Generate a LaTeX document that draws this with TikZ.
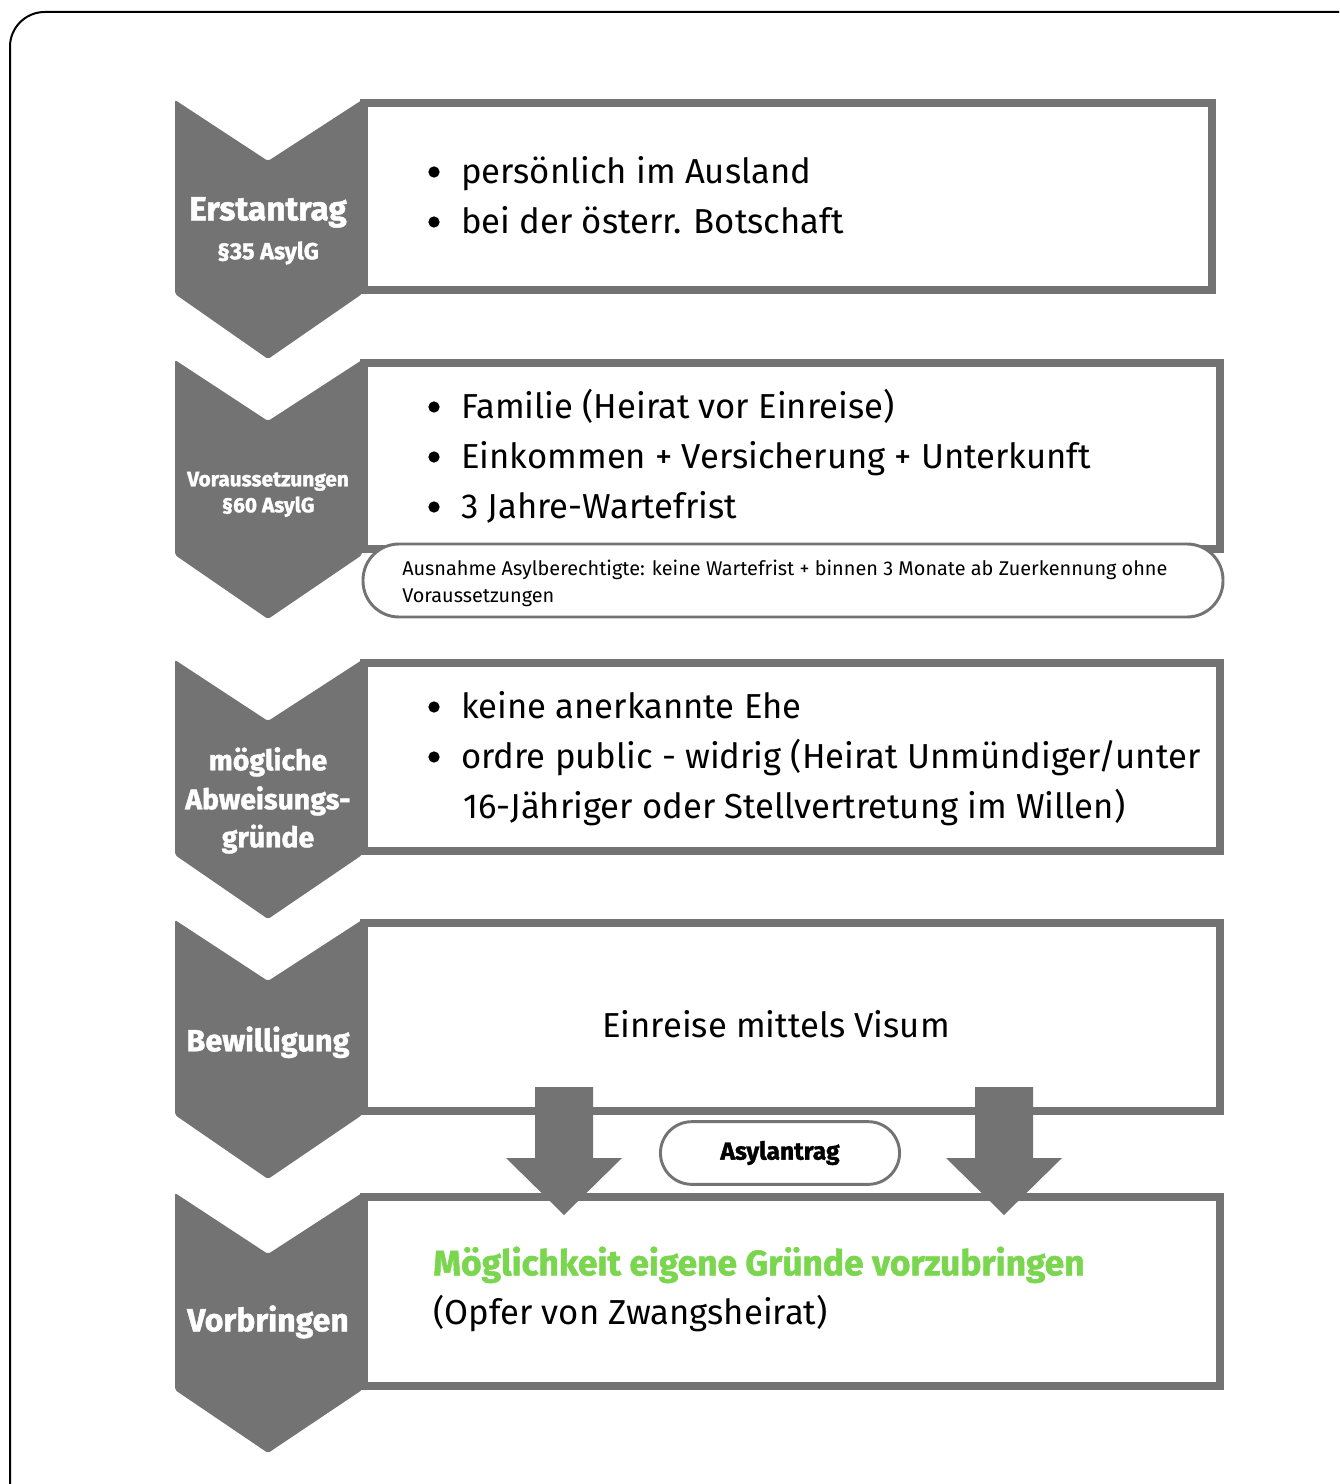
\documentclass[tikz,border=0pt]{standalone}
\usepackage{fontspec}
\setmainfont{Fira Sans}
\newfontfamily\heavyfont{Fira Sans}[BoldFeatures={FakeBold=1.4}]
\usetikzlibrary{shapes.misc}
\definecolor{grey}{HTML}{737373}
\definecolor{grn}{HTML}{7AD64E}
\newcommand\fsz[1]{\fontsize{#1}{#1}\selectfont}
\begin{document}
\begin{tikzpicture}[x=0.75pt,y=-0.75pt,
  chev/.style={fill=grey, rounded corners=1.5pt},
  boxframe/.style={draw=grey, line width=6pt, fill=white},
  blk/.style={fill=grey},
  txt/.style={inner sep=0pt, text height=0.69em, text depth=0pt, anchor=west, yshift=-5pt, font=\fsz{26pt}},
  lab/.style={inner sep=0pt, text height=0.69em, text depth=0pt, anchor=center, text=white, yshift=-3.5pt},
  notetxt/.style={inner sep=0pt, text height=0.69em, text depth=0pt, anchor=west, yshift=-2.2pt, font=\fsz{14.9pt}},
  dot/.style={circle, fill=black, inner sep=0pt, minimum size=8.5pt},
  pill/.style={rounded rectangle, draw=grey, line width=2.2pt, fill=white, minimum width=186pt, minimum height=47pt, font=\heavyfont\bfseries\fsz{18.5pt}}]
\useasboundingbox (0,0) rectangle (1339,1484);
\begin{scope}
\clip (0,0) rectangle (1339,1484);
\draw[line width=1.5pt, rounded corners=26pt] (10,12) rectangle (1400,1540);
\end{scope}
% boxes
\draw[boxframe] (364,103) rectangle (1212,290);
\draw[boxframe] (364,363) rectangle (1220,549);
\draw[boxframe] (364,663) rectangle (1220,851);
\draw[boxframe] (364,923) rectangle (1220,1111);
\draw[boxframe] (364,1197) rectangle (1220,1386);
% chevrons
\path[chev] (175,100) -- (268,161) -- (362,100) -- (362,294) -- (268,359) -- (175,294) -- cycle;
\path[chev] (175,360) -- (268,421) -- (362,360) -- (362,555) -- (268,619) -- (175,555) -- cycle;
\path[chev] (175,660) -- (268,721) -- (362,660) -- (362,855) -- (268,919) -- (175,855) -- cycle;
\path[chev] (175,920) -- (268,981) -- (362,920) -- (362,1115) -- (268,1179) -- (175,1115) -- cycle;
\path[chev] (175,1193) -- (268,1254) -- (362,1193) -- (362,1390) -- (268,1453) -- (175,1390) -- cycle;
% chevron labels
\node[lab, font=\heavyfont\bfseries\fsz{25pt}] (l1a) at (268,211) {Erstantrag};
\node[lab, font=\heavyfont\bfseries\fsz{17.5pt}] (l1b) at (268,250) {§35 AsylG};
\node[lab, font=\heavyfont\bfseries\fsz{15.6pt}] (l2a) at (268,477) {Voraussetzungen};
\node[lab, font=\heavyfont\bfseries\fsz{15.6pt}] (l2b) at (268,503) {§60 AsylG};
\node[lab, font=\heavyfont\bfseries\fsz{21.3pt}] (l3a) at (268,761) {mögliche};
\node[lab, font=\heavyfont\bfseries\fsz{21.3pt}] (l3b) at (268,800) {Abweisungs-};
\node[lab, font=\heavyfont\bfseries\fsz{21.3pt}] (l3c) at (268,838) {gründe};
\node[lab, font=\heavyfont\bfseries\fsz{23pt}] (l4) at (268,1042) {Bewilligung};
\node[lab, font=\heavyfont\bfseries\fsz{24pt}] (l5) at (268,1322) {Vorbringen};
% box 1
\node[dot] (d11) at (434,172) {};
\node[txt] (t11) at (461,172) {persönlich im Ausland};
\node[dot] (d12) at (434,222) {};
\node[txt] (t12) at (461,222) {bei der österr. Botschaft};
% box 2
\node[dot] (d21) at (434,407) {};
\node[txt] (t21) at (461,407) {Familie (Heirat vor Einreise)};
\node[dot] (d22) at (434,457) {};
\node[txt] (t22) at (461,457) {Einkommen + Versicherung + Unterkunft};
\node[dot] (d23) at (434,507) {};
\node[txt] (t23) at (461,507) {3 Jahre-Wartefrist};
% note
\draw[draw=grey, line width=2.2pt, fill=white, rounded corners=27pt] (363,544) rectangle (1223,617);
\node[notetxt] (n1) at (402,568) {Ausnahme Asylberechtigte: keine Wartefrist + binnen 3 Monate ab Zuerkennung ohne};
\node[notetxt] (n2) at (402,595) {Voraussetzungen};
% box 3
\node[dot] (d31) at (434,707) {};
\node[txt] (t31) at (461,707) {keine anerkannte Ehe};
\node[dot] (d32) at (434,757) {};
\node[txt] (t32) at (461,757) {ordre public - widrig (Heirat Unmündiger/unter};
\node[txt] (t33) at (463,807) {16-Jähriger oder Stellvertretung im Willen)};
% box 4
\node[txt, anchor=center] (t41) at (776,1026) {Einreise mittels Visum};
% arrows
\path[blk] (535,1087) -- (593,1087) -- (593,1158) -- (622,1158) -- (564,1215) -- (506,1158) -- (535,1158) -- cycle;
\path[blk] (975,1087) -- (1033,1087) -- (1033,1158) -- (1062,1158) -- (1004,1215) -- (946,1158) -- (975,1158) -- cycle;
\node[pill, yshift=-1.5pt] (asyl) at (780,1151) {Asylantrag};
% box 5
\node[txt, font=\heavyfont\bfseries\fsz{26.5pt}, text=grn] (t51) at (433,1264) {Möglichkeit eigene Gründe vorzubringen};
\node[txt] (t52) at (433,1313) {(Opfer von Zwangsheirat)};
\end{tikzpicture}
\end{document}
